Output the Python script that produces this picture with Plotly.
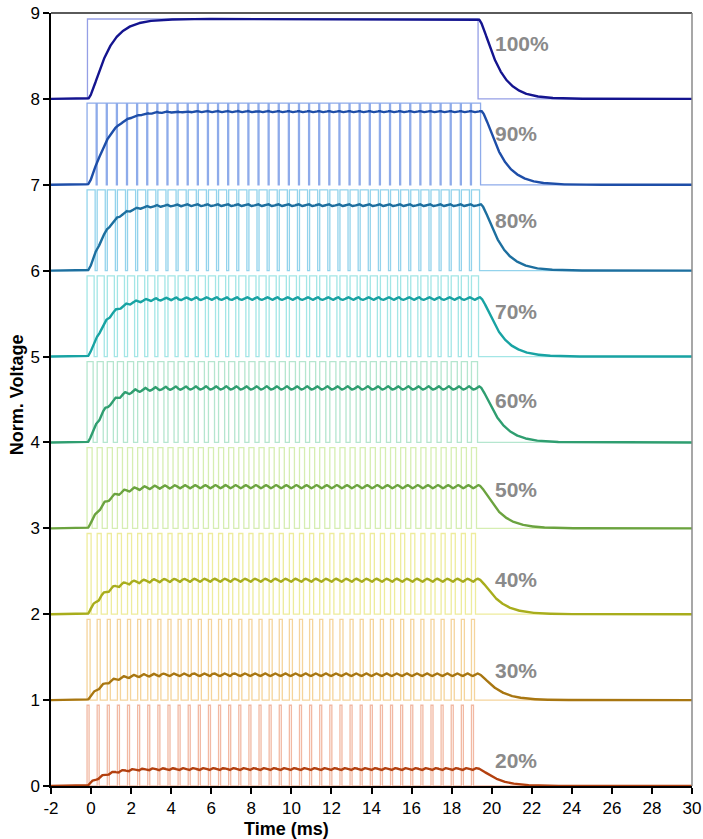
import numpy as np
import plotly.graph_objects as go

# ---- data ----
duty_pct = [20, 30, 40, 50, 60, 70, 80, 90, 100]          # PWM duty cycle (%)
baseline = [0, 1, 2, 3, 4, 5, 6, 7, 8]                    # vertical offset of each trace
pwm_high = [0.94, 0.94, 0.94, 0.94, 0.94, 0.94, 0.94, 0.95, 0.93]   # PWM high level above baseline
filt_level = [0.20, 0.30, 0.40, 0.49, 0.64, 0.68, 0.77, 0.86, 0.93]  # settled filtered level
label_y = [0.30, 1.35, 2.40, 3.45, 4.49, 5.53, 6.58, 7.60, 8.65]     # y of the % labels
labels = ["20%", "30%", "40%", "50%", "60%", "70%", "80%", "90%", "100%"]

pwm_start = -0.2      # ms, first rising edge
pwm_period = 0.505    # ms
pwm_count = 39        # number of PWM periods
full_on_start = -0.18 # ms, 100% trace
full_on_end = 19.32   # ms
tau_1 = 0.75          # ms, filter poles
tau_2 = 0.28

x_ticks = list(range(-2, 31, 2))
y_ticks = list(range(0, 10))

# ---- styles ----
pwm_colors = ["#f2b9a3", "#f5d49b", "#eeec9c", "#d6eeb2", "#b5e6cf", "#a3e6e6", "#93d3ec", "#8eabea", "#959fe6"]
filt_colors = ["#b3400f", "#a87611", "#a8ad1c", "#6ba33f", "#2f9e70", "#18a3a3", "#1d6f9f", "#1e4ea8", "#14148f"]
FONT = "Liberation Sans, Arial, Helvetica"

dt = 0.005
t = np.arange(-2.0, 30.0 + dt / 2, dt)

fig = go.Figure()
filt_traces = []
for i, d in enumerate(duty_pct):
    b = baseline[i]
    a = pwm_high[i]
    frac = d / 100.0
    if d >= 100:
        edges = [(full_on_start, full_on_end)]
    else:
        w = frac * pwm_period
        edges = [(pwm_start + k * pwm_period, pwm_start + k * pwm_period + w) for k in range(pwm_count)]
    xs = [-2.0]
    ys = [b]
    for s, e in edges:
        xs += [s, s, e, e]
        ys += [b, b + a, b + a, b]
    xs.append(30.0)
    ys.append(b)
    fig.add_trace(go.Scatter(x=xs, y=ys, mode="lines",
                             line=dict(color=pwm_colors[i], width=1.3),
                             hoverinfo="skip", showlegend=False))
    # filtered response: two cascaded RC poles applied to the PWM signal
    u = np.zeros_like(t)
    for s, e in edges:
        u[(t >= s) & (t < e)] = 1.0
    a1 = 1 - np.exp(-dt / tau_1)
    a2 = 1 - np.exp(-dt / tau_2)
    x1 = 0.0
    x2 = 0.0
    out = np.empty_like(t)
    for n in range(len(t)):
        x1 += a1 * (u[n] - x1)
        x2 += a2 * (x1 - x2)
        out[n] = x2
    yf = b + out * (filt_level[i] / frac)
    filt_traces.append(go.Scatter(x=t[::2], y=yf[::2], mode="lines",
                                  line=dict(color=filt_colors[i], width=2.4),
                                  hoverinfo="skip", showlegend=False))
for tr in filt_traces:
    fig.add_trace(tr)

for i, lab in enumerate(labels):
    fig.add_annotation(x=20.05, y=label_y[i], text="<b>" + lab + "</b>", showarrow=False,
                       xanchor="left", yanchor="middle",
                       font=dict(family=FONT, size=21, color="#8a8a8a"))

# axis titles
fig.add_annotation(x=9.75, xref="x", y=0, yref="paper", yshift=-43, text="<b>Time (ms)</b>",
                   showarrow=False, xanchor="center", yanchor="middle",
                   font=dict(family=FONT, size=18, color="black"))
fig.add_annotation(x=0, xref="paper", xshift=-34, y=4.55, yref="y", text="<b>Norm. Voltage</b>",
                   showarrow=False, textangle=-90, xanchor="center", yanchor="middle",
                   font=dict(family=FONT, size=18, color="black"))

fig.add_shape(type="line", xref="paper", yref="paper", x0=0, x1=1, y0=1, y1=1,
              line=dict(color="#5a5a5a", width=2))
fig.add_shape(type="line", xref="paper", yref="paper", x0=1, x1=1, y0=0, y1=1,
              line=dict(color="#8a8a8a", width=1.5))

fig.update_layout(
    width=703, height=839,
    margin=dict(l=51, r=11, t=13, b=53),
    paper_bgcolor="white", plot_bgcolor="white",
    font=dict(family=FONT, size=17, color="black"),
    hovermode=False,
    xaxis=dict(range=[-2, 30], tickvals=x_ticks, ticktext=[str(v) for v in x_ticks],
               showgrid=False, zeroline=False, showline=True, linecolor="black", linewidth=1.5,
               ticks="outside", ticklen=6, tickcolor="black", tickwidth=1.5, automargin=False,
               tickfont=dict(size=17)),
    yaxis=dict(range=[0, 9], tickvals=y_ticks, ticktext=[str(v) for v in y_ticks],
               showgrid=False, zeroline=False, showline=True, linecolor="black", linewidth=1.5,
               ticks="outside", ticklen=6, tickcolor="black", tickwidth=1.5, automargin=False,
               tickfont=dict(size=17)),
)

# remove the page's default 8px body margin so the figure sits at the window's corner
fig.write_html("out.html", config={"displayModeBar": False},
               post_script="document.body.style.margin='0px';")
